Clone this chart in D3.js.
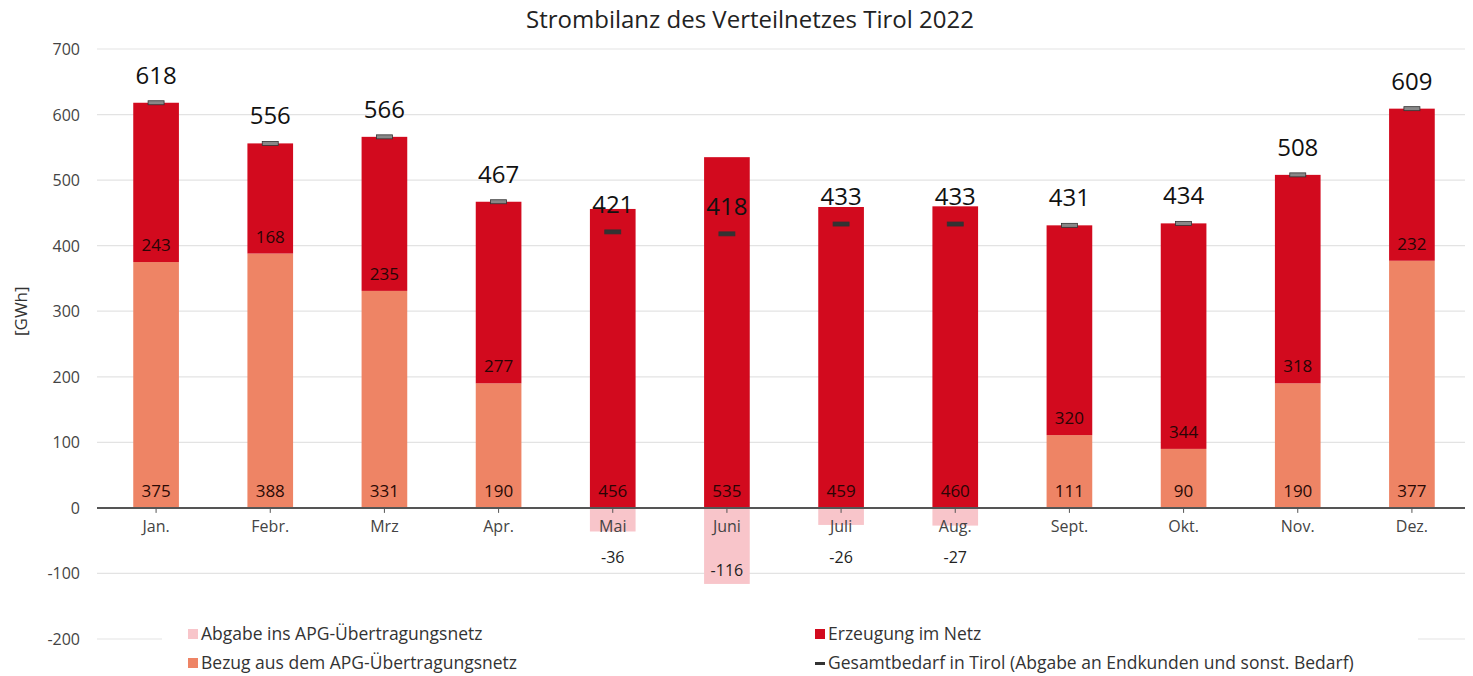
<!DOCTYPE html>
<html>
<head>
<meta charset="utf-8">
<script src="https://cdn.jsdelivr.net/npm/d3@7"></script>
<style>
  body { margin: 0; background: #fff; }
  text { font-family: "Open Sans", "Noto Sans", sans-serif; }
</style>
</head>
<body>
<div class="canvas"></div>
<script>
const months = ["Jan.", "Febr.", "Mrz", "Apr.", "Mai", "Juni", "Juli", "Aug.", "Sept.", "Okt.", "Nov.", "Dez."];
const bezug = [375, 388, 331, 190, 0, 0, 0, 0, 111, 90, 190, 377];
const erzeugung = [243, 168, 235, 277, 456, 535, 459, 460, 320, 344, 318, 232];
const abgabe = [0, 0, 0, 0, -36, -116, -26, -27, 0, 0, 0, 0];
const gesamtbedarf = [618, 556, 566, 467, 421, 418, 433, 433, 431, 434, 508, 609];
const yTicks = [700, 600, 500, 400, 300, 200, 100, 0, -100, -200];

const dims = { width: 1473, height: 676 };
const plot = { left: 99, right: 1469, top: 49, bottom: 639 };

const colors = {
  abgabe: "#f8c5ca",
  bezug: "#ee8465",
  erzeugung: "#d20a1e",
  bedarf: "#333333"
};

const svg = d3
  .select(".canvas")
  .append("svg")
  .attr("width", dims.width)
  .attr("height", dims.height);

const x = d3
  .scaleBand()
  .domain(months)
  .range([plot.left, plot.right])
  .paddingInner(0.6)
  .paddingOuter(0.3);

const y = d3.scaleLinear().domain([-200, 700]).range([plot.bottom, plot.top]);

// title
svg
  .append("text")
  .attr("x", 750)
  .attr("y", 28)
  .attr("text-anchor", "middle")
  .attr("font-size", 24)
  .attr("fill", "#222")
  .text("Strombilanz des Verteilnetzes Tirol 2022");

// gridlines + y labels
const grid = svg.append("g");
grid
  .selectAll("line")
  .data(yTicks.filter((d) => d !== 0))
  .enter()
  .append("line")
  .attr("x1", 97)
  .attr("x2", 1465)
  .attr("y1", (d) => y(d))
  .attr("y2", (d) => y(d))
  .attr("stroke", "#e3e3e3")
  .attr("stroke-width", 1.2);

grid
  .selectAll("text")
  .data(yTicks)
  .enter()
  .append("text")
  .attr("x", 80)
  .attr("y", (d) => y(d) + 6)
  .attr("text-anchor", "end")
  .attr("font-size", 16)
  .attr("fill", "#444")
  .text((d) => d);

svg
  .append("text")
  .attr("transform", `translate(27, ${y(300)}) rotate(-90)`)
  .attr("text-anchor", "middle")
  .attr("font-size", 17)
  .attr("fill", "#333")
  .text("[GWh]");

const bw = x.bandwidth();
const bars = svg.append("g");

// Bezug (bottom segment)
bars
  .selectAll(".bezug")
  .data(months)
  .enter()
  .append("rect")
  .attr("class", "bezug")
  .attr("x", (d) => x(d))
  .attr("width", bw)
  .attr("y", (d, i) => y(bezug[i]))
  .attr("height", (d, i) => y(0) - y(bezug[i]))
  .attr("fill", colors.bezug);

// Erzeugung (stacked on top)
bars
  .selectAll(".erz")
  .data(months)
  .enter()
  .append("rect")
  .attr("class", "erz")
  .attr("x", (d) => x(d))
  .attr("width", bw)
  .attr("y", (d, i) => y(bezug[i] + erzeugung[i]))
  .attr("height", (d, i) => y(bezug[i]) - y(bezug[i] + erzeugung[i]))
  .attr("fill", colors.erzeugung);

// Abgabe (negative)
bars
  .selectAll(".abg")
  .data(months)
  .enter()
  .append("rect")
  .attr("class", "abg")
  .attr("x", (d) => x(d))
  .attr("width", bw)
  .attr("y", y(0))
  .attr("height", (d, i) => y(abgabe[i]) - y(0))
  .attr("fill", colors.abgabe);

// zero axis
const xAxis = svg
  .append("g")
  .attr("transform", `translate(0, ${y(0)})`)
  .call(d3.axisBottom(x).tickSize(5).tickSizeOuter(0).tickPadding(8));
xAxis.select(".domain").attr("stroke", "#555").attr("stroke-width", 2).attr("d", `M97,0H1465`);
xAxis.selectAll(".tick line").attr("stroke", "#555");
xAxis
  .selectAll(".tick text")
  .attr("font-size", 16)
  .attr("fill", "#444")
  .attr("font-family", '"Open Sans", sans-serif');

// Gesamtbedarf markers
bars
  .selectAll(".bedarf")
  .data(months)
  .enter()
  .append("rect")
  .attr("class", "bedarf")
  .attr("x", (d) => x(d) + bw / 2 - 8)
  .attr("width", 16)
  .attr("y", (d, i) => y(gesamtbedarf[i]) - 2)
  .attr("height", 4)
  .attr("fill", (d, i) => (gesamtbedarf[i] >= bezug[i] + erzeugung[i] - 3 ? "#888" : colors.bedarf))
  .attr("stroke", "#333")
  .attr("stroke-width", 0.8);

// labels
const labels = svg.append("g").attr("text-anchor", "middle");

labels
  .selectAll(".lb-bezug")
  .data(months.filter((d, i) => bezug[i] > 0))
  .enter()
  .append("text")
  .attr("x", (d) => x(d) + bw / 2)
  .attr("y", y(0) - 11)
  .attr("font-size", 17)
  .attr("fill", "#2a0a05")
  .text((d) => bezug[months.indexOf(d)]);

labels
  .selectAll(".lb-erz")
  .data(months)
  .enter()
  .append("text")
  .attr("x", (d) => x(d) + bw / 2)
  .attr("y", (d, i) => y(bezug[i]) - 11)
  .attr("font-size", 17)
  .attr("fill", "#2a0505")
  .text((d, i) => erzeugung[i]);

labels
  .selectAll(".lb-abg")
  .data(months.filter((d, i) => abgabe[i] < 0))
  .enter()
  .append("text")
  .attr("x", (d) => x(d) + bw / 2)
  .attr("y", (d) => Math.max(y(abgabe[months.indexOf(d)]) - 8, y(0) + 55))
  .attr("font-size", 16)
  .attr("fill", "#222")
  .text((d) => abgabe[months.indexOf(d)]);

labels
  .selectAll(".lb-total")
  .data(months)
  .enter()
  .append("text")
  .attr("x", (d) => x(d) + bw / 2)
  .attr("y", (d, i) => y(gesamtbedarf[i]) - 19)
  .attr("font-size", 24)
  .attr("fill", "#111")
  .text((d, i) => gesamtbedarf[i]);

// legend
const legendItems = [
  { name: "Abgabe ins APG-Übertragungsnetz", color: colors.abgabe, type: "rect", col: 0, row: 0 },
  { name: "Bezug aus dem APG-Übertragungsnetz", color: colors.bezug, type: "rect", col: 0, row: 1 },
  { name: "Erzeugung im Netz", color: colors.erzeugung, type: "rect", col: 1, row: 0 },
  { name: "Gesamtbedarf in Tirol (Abgabe an Endkunden und sonst. Bedarf)", color: colors.bedarf, type: "dash", col: 1, row: 1 }
];

const legendGroup = svg.append("g");
legendGroup
  .append("rect")
  .attr("x", 162)
  .attr("y", 618)
  .attr("width", 1256)
  .attr("height", 58)
  .attr("fill", "#fff");

const lg = legendGroup
  .selectAll(".item")
  .data(legendItems)
  .enter()
  .append("g")
  .attr("transform", (d) => `translate(${d.col ? 815 : 188}, ${634 + d.row * 29})`);

lg.append("rect")
  .attr("x", 0)
  .attr("y", (d) => (d.type === "dash" ? -1 : -5))
  .attr("width", 10)
  .attr("height", (d) => (d.type === "dash" ? 3 : 10))
  .attr("fill", (d) => d.color);

lg.append("text")
  .attr("x", 13)
  .attr("y", 6)
  .attr("font-size", 17.5)
  .attr("fill", "#333")
  .text((d) => d.name);
</script>
</body>
</html>
